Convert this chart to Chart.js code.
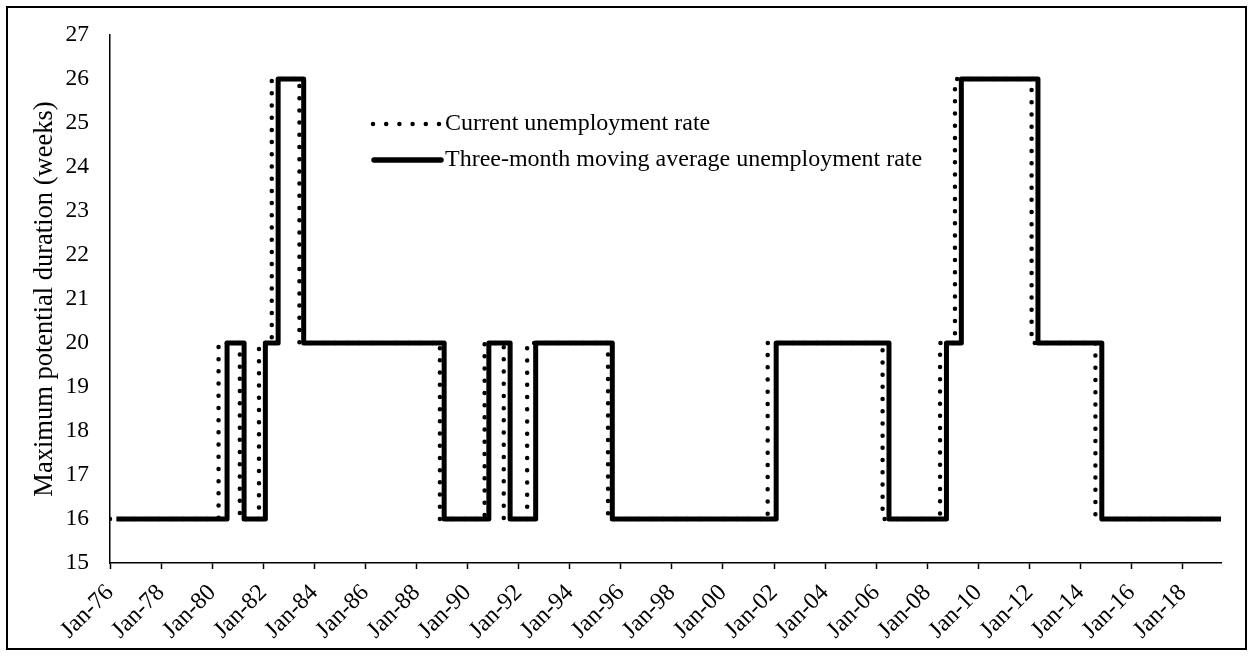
<!DOCTYPE html>
<html>
<head>
<meta charset="utf-8">
<script src="https://cdn.jsdelivr.net/npm/chart.js@4.4.0/dist/chart.umd.min.js"></script>
<style>
  html, body { margin: 0; padding: 0; background: #fff; }
  canvas { display: block; }
</style>
</head>
<body>
<canvas id="uiChart" width="1253" height="656"></canvas>
<script>
// change points of each step series (month when the new value starts)
const currentDates  = ['1976-01', '1980-04', '1981-02', '1981-11', '1982-05', '1983-06', '1988-12', '1990-09', '1991-06', '1992-05', '1995-07', '2001-10', '2006-04', '2008-07', '2009-02', '2012-02', '2014-08', '2019-07'];
const currentValues = [16, 20, 16, 20, 26, 20, 16, 20, 16, 20, 16, 20, 16, 20, 26, 20, 16, 16];

const movingAvgDates  = ['1976-04', '1980-08', '1981-04', '1982-02', '1982-08', '1983-08', '1989-02', '1990-11', '1991-09', '1992-09', '1995-09', '2002-02', '2006-07', '2008-10', '2009-05', '2012-05', '2014-11', '2019-07'];
const movingAvgValues = [16, 20, 16, 20, 26, 20, 16, 20, 16, 20, 16, 20, 16, 20, 26, 20, 16, 16];

const seriesLabels = ['Current unemployment rate', 'Three-month moving average unemployment rate'];
const yTitle = 'Maximum potential duration (weeks)';
const startYear = 1976;
const lastMonth = '2019-07';

// months since Jan-76
function monthIndex(s) {
    const parts = s.split('-');
    return (parseInt(parts[0]) - startYear) * 12 + (parseInt(parts[1]) - 1);
}
function toPoints(dates, values) {
    return dates.map((d, i) => ({ x: monthIndex(d), y: values[i] }));
}

const FONT = "'Liberation Serif', 'Times New Roman', serif";

const frame = {
    id: 'frame',
    beforeDraw(chart) {
        const ctx = chart.ctx;
        ctx.save();
        ctx.fillStyle = '#fff';
        ctx.fillRect(0, 0, chart.width, chart.height);
        ctx.strokeStyle = '#000';
        ctx.lineWidth = 2;
        ctx.strokeRect(7, 7, 1239, 642);
        ctx.restore();
    }
};

// legend drawn inside the plot like the original
const insideLegend = {
    id: 'insideLegend',
    afterDraw(chart) {
        const ctx = chart.ctx;
        ctx.save();
        ctx.strokeStyle = '#000';
        ctx.lineCap = 'round';
        // dotted sample
        ctx.lineWidth = 4.5;
        ctx.setLineDash([0, 13.2]);
        ctx.beginPath();
        ctx.moveTo(373, 124);
        ctx.lineTo(440, 124);
        ctx.stroke();
        // solid sample
        ctx.setLineDash([]);
        ctx.lineWidth = 5.5;
        ctx.beginPath();
        ctx.moveTo(374, 160);
        ctx.lineTo(441, 160);
        ctx.stroke();

        ctx.fillStyle = '#000';
        ctx.font = '24px ' + FONT;
        ctx.textBaseline = 'middle';
        ctx.fillText(seriesLabels[0], 445, 124);
        ctx.fillText(seriesLabels[1], 445, 160);
        ctx.restore();
    }
};

const ctx = document.getElementById('uiChart');
const uiChart = new Chart(ctx, {
    type: 'line',
    data: {
        datasets: [{
            label: seriesLabels[0],
            data: toPoints(currentDates, currentValues),
            stepped: true,
            borderColor: '#000',
            borderWidth: 4.5,
            borderDash: [0, 12.2],
            borderCapStyle: 'round',
            pointRadius: 0,
            fill: false,
            order: 2
        }, {
            label: seriesLabels[1],
            data: toPoints(movingAvgDates, movingAvgValues),
            stepped: true,
            borderColor: '#000',
            borderWidth: 5,
            borderJoinStyle: 'round',
            pointRadius: 0,
            fill: false,
            order: 1
        }]
    },
    options: {
        responsive: false,
        animation: false,
        layout: {
            padding: { left: 0, top: 33, right: 32, bottom: 0 }
        },
        plugins: {
            legend: { display: false },
            tooltip: { enabled: false }
        },
        scales: {
            x: {
                type: 'linear',
                min: 0,
                max: monthIndex(lastMonth),
                afterFit: function(scale) { scale.height = 93; },
                grid: {
                    drawOnChartArea: false,
                    drawTicks: true,
                    tickLength: 6,
                    tickColor: '#000',
                    tickWidth: 1.5
                },
                border: { display: true, color: '#000', width: 1.5 },
                ticks: {
                    stepSize: 24,
                    includeBounds: false,
                    autoSkip: false,
                    minRotation: 45,
                    maxRotation: 45,
                    padding: 10,
                    color: '#000',
                    font: { family: FONT, size: 24 },
                    callback: function(v) {
                        const yr = (startYear + Math.floor(v / 12)) % 100;
                        return 'Jan-' + String(yr).padStart(2, '0');
                    }
                }
            },
            y: {
                min: 15,
                max: 27,
                afterFit: function(scale) { scale.width = 110; },
                grid: { display: false, drawTicks: false },
                border: { display: true, color: '#000', width: 1.5 },
                ticks: {
                    stepSize: 1,
                    padding: 21,
                    color: '#000',
                    font: { family: FONT, size: 23.5 }
                },
                title: {
                    display: true,
                    text: yTitle,
                    color: '#000',
                    font: { family: FONT, size: 26.5 },
                    padding: { top: 29, bottom: 0 }
                }
            }
        }
    },
    plugins: [frame, insideLegend]
});
</script>
</body>
</html>
